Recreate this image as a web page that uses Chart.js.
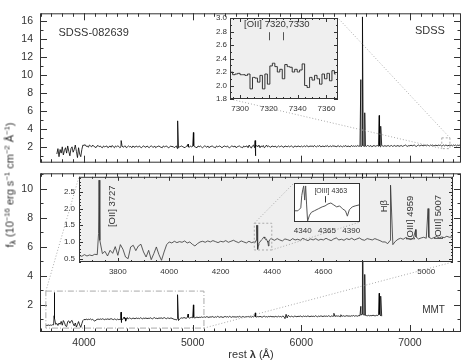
<!DOCTYPE html>
<html>
<head>
<meta charset="utf-8">
<script src="https://cdn.jsdelivr.net/npm/chart.js@4.4.1/dist/chart.umd.min.js"></script>
<style>
  body { margin: 0; background: #fff; }
  #wrap { position: relative; width: 468px; height: 360px; overflow: hidden;
          font-family: 'Liberation Sans', Arial, sans-serif; color: #333; }
  canvas { position: absolute; }
  #ylab { position: absolute; left: 10px; top: 185px; white-space: nowrap; font-size: 11px; line-height: 1;
          font-weight: normal; transform: translate(-50%, -50%) rotate(-90deg); }
  #xlab { position: absolute; left: 251px; top: 354px; white-space: nowrap; font-size: 11px; line-height: 1;
          font-weight: normal; transform: translate(-50%, -50%); }
  .lam { font-weight: bold; }
  sup, sub { font-size: 70%; line-height: 0; position: relative; vertical-align: baseline; }
  sup { top: -0.55em; }
  sub { bottom: -0.3em; }
</style>
</head>
<body>
<div id="wrap">
  <canvas id="cTop" width="468" height="176" style="left:0;top:0"></canvas>
  <canvas id="cBot" width="468" height="188" style="left:0;top:160px"></canvas>
  <canvas id="cTopZoom" width="155" height="108" style="left:190px;top:10px"></canvas>
  <canvas id="cBotZoom" width="415" height="110" style="left:45px;top:168px"></canvas>
  <canvas id="cHgZoom" width="90" height="66" style="left:280px;top:175px"></canvas>
  <div id="ylab">f<sub class="lam">λ</sub> (10<sup>−16</sup> erg s<sup>−1</sup> cm<sup>−2</sup> Å<sup>−1</sup>)</div>
  <div id="xlab">rest <span class="lam">λ</span> (Å)</div>
</div>
<script>
// ---- SDSS spectrum (top panel), 10 A grid from 3750 ----
const SDSS_START = 3750, SDSS_STEP = 10;
const sdssFlux = [
  1.2,1.8,0.9,1.7,1.3,2.0,1.1,1.6,1.9,1.3,2.1,1.5,1.0,1.8,2.0,1.4,1.7,2.2,1.5,0.8,1.9,1.2,0.9,1.7,2.2,
  2.15,2.25,2.05,2.10,1.95,2.20,2.10,2.00,2.20,2.05, 2.00,1.90,2.10,2.15,2.00,2.10,1.95,1.90,2.10,2.00,
  2.05,2.10,1.90,2.00,2.10,1.95,2.15,2.00,1.90,2.10, 2.00,2.10,2.05,1.90,2.00,2.10,1.95,2.05,2.10,1.90,
  2.00,2.10,2.00,2.05,1.90,2.10,2.00,1.95,2.10,2.00,
  2.00,2.10,1.95,1.90,2.05,2.10,2.00,1.95,2.10,2.00, 1.90,2.05,2.10,2.00,1.95,2.10,1.90,2.00,2.05,2.10,
  2.00,1.95,1.90,2.10,2.00,2.05,2.10,1.95,1.90,2.00, 2.10,2.00,2.05,1.90,2.00,2.10,1.80,1.90,2.00,2.05,
  2.10,2.00,1.95,1.90,2.05,2.10,2.00,1.95,2.10,2.00,
  2.05,2.10,2.00,1.95,1.90,2.10,2.00,2.10,2.00,1.90, 2.00,2.10,2.05,1.95,2.10,1.90,2.00,2.05,2.10,2.00,
  1.95,1.90,2.10,2.00,2.05,2.10,2.00,1.90,2.00,2.10, 2.05,2.00,2.10,1.95,1.90,2.00,2.10,2.05,2.00,2.10,
  1.90,2.00,2.05,2.10,2.00,1.95,1.90,2.10,2.00,2.05,
  2.10,1.90,2.20,2.00,1.85,2.10,2.20,1.90,2.00,2.15, 2.00,2.20,1.90,2.10,2.00,2.15,1.90,2.00,2.20,2.00,
  2.10,2.00,1.95,2.10,2.05,2.00,2.10,1.95,2.00,2.10, 2.00,2.05,2.10,2.00,1.95,2.10,2.05,2.00,2.10,2.00,
  2.05,2.10,2.00,1.95,2.10,2.05,2.00,2.10,2.05,2.00,
  2.10,2.00,2.05,2.10,2.00,2.15,2.05,2.00,2.10,2.05, 2.10,2.00,2.15,2.05,2.00,2.10,2.05,2.15,2.00,2.05,
  2.10,2.00,2.10,2.05,2.15,2.00,2.05,2.10,2.00,2.15, 2.05,2.10,2.00,2.05,2.15,2.00,2.10,2.05,2.00,2.10,
  2.05,2.15,2.00,2.10,2.05,2.00,2.15,2.05,2.10,2.05,
  2.10,2.05,2.15,2.05,2.10,2.00,2.15,2.10,2.05,2.10, 2.05,2.15,2.10,2.05,2.15,2.00,2.10,2.15,2.05,2.10,
  2.15,2.05,2.10,2.00,2.15,2.10,2.05,2.15,2.05,2.10, 2.15,2.05,2.10,2.15,2.05,2.10,2.15,2.05,2.10,2.15,
  2.05,2.10,2.15,2.05,2.10,2.15,2.20,2.10,2.05,2.15,
  2.10,2.20,2.10,2.15,2.20,2.10,2.05,2.15,2.20,2.10, 2.15,2.20,2.10,2.15,2.20,2.10,2.20,2.15,2.10,2.20,
  2.15,2.20,2.10,2.15,2.20,2.10,2.20,2.15,2.20,2.10, 2.15,2.20,2.10,2.20,2.15,2.10,2.20,2.15,2.20,2.10,
  2.20,2.15,2.20,2.10,2.20,2.15,2.20,2.20
];
// emission lines / sky residual in the SDSS spectrum
const sdssLineWl   = [4342, 4862, 4959, 5007, 5575, 5579, 6548, 6563, 6584, 6717, 6731];
const sdssLineFlux = [2.7,  4.9,  2.3,  3.6,  2.7,  1.0,  9.5,  16.5, 5.8,  5.5,  4.3];

// SDSS zoom around [OII] 7320,7330 (one value per pixel)
const ZOOM_START = 7293.1, ZOOM_STEP = 1.724;
const sdssZoomFlux = [2.20,2.16,2.17,2.18,2.16,2.16,2.15,2.17,1.95,2.12,2.11,2.05,2.15,1.95,2.17,2.02,
  2.29,2.33,2.28,2.20,2.24,2.10,2.31,2.28,2.27,2.20,2.24,2.20,2.23,2.32,2.00,1.97,2.12,2.08,2.15,2.10,
  2.02,2.17,2.10,2.18,2.07,2.22,2.17];

// ---- MMT spectrum (bottom panel), 10 A grid from 3650; null where the fine Hgamma points take over ----
const MMT_START = 3650, MMT_STEP = 10;
const mmtFlux = [
  0.60,0.57,0.62,0.58,0.61,0.59,0.63,0.62,
  1.05,0.65,0.72,0.58,0.75,0.66,0.86,0.60,0.92,0.78,0.55,0.50,0.85,0.90,0.74,0.88,0.93,0.70,0.55,0.75,
  0.47,0.65,0.85,0.62,0.45,0.70,0.92,
  1.00,0.97,1.02,0.98,1.01,0.99,1.03,0.97,1.00,0.93, 0.88,0.95,1.00,1.02,0.99,1.03,1.00,1.04,1.01,0.98,
  1.02,1.00,1.04,0.99,1.02,1.05,1.01,0.98,1.03,1.00, 0.97,1.02,0.98,1.00,
  null,null,null,null,null,null,
  1.08,1.05,1.10,1.06,1.03,1.09,1.07,1.04,1.10,1.06, 1.08,1.05,1.11,1.07,1.04,1.09,1.06,1.10,1.05,1.08,
  1.06,1.11,1.07,1.04,1.09,1.12,1.06,1.08,1.05,1.10, 1.07,1.11,1.06,1.09,1.12,1.07,1.05,1.10,1.08,1.06,
  1.10,1.07,1.04,1.00,1.00,0.95,1.05,0.92,1.02,1.08, 1.11,1.08,1.13,1.10,1.07,1.12,1.15,1.09,1.12,1.14,
  1.11,1.14,1.10,1.13,1.16,1.12,1.15,1.13,1.17,1.14, 1.15,
  1.17,1.14,1.19,1.16,1.13,1.18,1.15,1.20,1.16,1.14, 1.18,1.15,1.21,1.17,1.14,1.19,1.16,1.13,1.18,1.20,
  1.16,1.19,1.15,1.21,1.17,1.14,1.20,1.16,1.18,1.15, 1.19,1.16,1.21,1.17,1.15,1.20,1.18,1.14,1.19,1.17,
  1.21,1.16,1.19,1.15,1.20,1.17,1.22,1.18,1.16,1.20, 1.17,1.21,1.18,1.15,1.20,1.22,1.17,1.19,1.16,1.21,
  1.18,1.22,1.17,1.20,1.16,1.21,1.19,1.17,1.22,1.18, 1.20,1.16,1.23,1.19,1.05,1.35,1.10,1.28,1.21,1.18,
  1.22,1.19,1.17,1.23,1.20,1.18,1.22,1.19,1.24,1.20, 1.18,1.23,1.20,1.22,1.19,1.24,1.21,1.18,1.23,1.20,
  1.22,1.19,1.25,1.21,1.18,1.23,1.20,1.24,1.22,1.19, 1.24,1.21,1.23,1.20,1.25,1.22,1.19,1.24,1.21,1.23,
  1.20,1.25,1.22,1.24,1.21,1.19,1.24,1.22,1.25,1.21, 1.23,1.26,1.22,1.24,1.21,1.25,1.23,1.27,1.22,1.25,
  1.24,1.22,1.27,1.25,1.30,1.35,1.32,1.30,1.28,1.26, 1.25,1.28,1.24,1.27,1.25,1.29,1.26,1.24,1.28,1.26,
  1.30,1.35,1.25,1.22
];
const mmtLineWl   = [3725, 3727, 4861, 4959, 5007, 5577, 6300, 6364, 6548, 6563, 6584, 6717, 6731];
const mmtLineFlux = [1.25, 2.85, 2.7,  1.37, 2.0,  1.45, 1.42, 1.32, 1.9,  12,   4.1,  2.8,  2.6];
// finer sampling around Hgamma / [OIII] 4363
const mmtHgWl   = [4332,4335,4338,4339,4340,4341,4342,4343,4344,4345,4347,4349,4352,4356,4360,4363,4366,
                   4369,4372,4375,4378,4381,4384,4386,4388,4391,4394,4398];
const mmtHgFlux = [0.99,0.99,1.05,1.30,1.42,1.50,1.21,1.50,1.11,0.78,0.90,0.96,0.99,1.03,1.07,1.09,1.13,
                   1.15,1.11,1.07,1.09,1.03,0.99,0.88,1.01,1.07,1.09,1.11];

// ---- ticks ----
const mainXTicks = [4000, 5000, 6000, 7000];
const topYTicks = [2, 4, 6, 8, 10, 12, 14, 16];
const botYTicks = [2, 4, 6, 8, 10];
const topZoomXTicks = [7300, 7320, 7340, 7360];
const topZoomYTicks = [1.8, 2.0, 2.2, 2.4, 2.6, 2.8, 3.0];
const botZoomXTicks = [3800, 4000, 4200, 4400, 4600, 4800, 5000];
const botZoomXLabels = [3800, 4000, 4200, 4400, 4600, 5000];
const botZoomYTicks = [0.5, 1.0, 1.5, 2.0, 2.5];
const hgXTicks = [4340, 4365, 4390];

const FONT = "'Liberation Sans', Arial, sans-serif";
const TEXT = '#333';
Chart.defaults.font.family = FONT;
Chart.defaults.color = TEXT;

function mergeSpec(start, step, flux, extraWl, extraFlux) {
  const pts = [];
  flux.forEach((f, i) => { if (f !== null) pts.push({ x: start + i * step, y: f }); });
  extraWl.forEach((w, i) => pts.push({ x: w, y: extraFlux[i] }));
  return pts.sort((p, q) => p.x - q.x);
}

function steps(min, max, step) {
  const out = [];
  for (let k = Math.ceil(min / step - 1e-9); k * step <= max + 1e-9; k++) out.push(+(k * step).toFixed(4));
  return out;
}

function linScale(min, max, ticksArr, o) {
  return {
    type: 'linear', min, max, display: o.display !== false,
    afterBuildTicks: s => { s.ticks = ticksArr.map(v => ({ value: v })); },
    afterFit: s => { if (o.size != null) { if (s.isHorizontal()) s.height = o.size; else s.width = o.size; } },
    grid: { display: false, drawTicks: false },
    border: { display: false },
    ticks: { padding: o.pad || 4, font: { size: o.font || 10 }, color: TEXT, maxRotation: 0, autoSkip: false,
             callback: o.fmt || (v => v) }
  };
}

// frame with inward ticks on all four sides (IDL style)
const frame = {
  id: 'frame',
  beforeDraw(chart, args, o) {
    if (!o.bg) return;
    const a = chart.chartArea, c = chart.ctx;
    c.save(); c.fillStyle = o.bg; c.fillRect(a.left, a.top, a.width, a.height); c.restore();
  },
  afterDatasetsDraw(chart, args, o) {
    const a = chart.chartArea, c = chart.ctx, { x, y } = chart.scales;
    c.save();
    c.strokeStyle = o.color || '#333';
    c.lineWidth = 1;
    c.strokeRect(a.left + 0.5, a.top + 0.5, a.width - 1, a.height - 1);
    c.beginPath();
    const xt = (vals, len) => vals.forEach(v => {
      if (v < x.min || v > x.max) return;
      const p = Math.round(x.getPixelForValue(v)) + 0.5;
      c.moveTo(p, a.bottom); c.lineTo(p, a.bottom - len);
      c.moveTo(p, a.top); c.lineTo(p, a.top + len);
    });
    const yt = (vals, len) => vals.forEach(v => {
      if (v < y.min || v > y.max) return;
      const p = Math.round(y.getPixelForValue(v)) + 0.5;
      c.moveTo(a.left, p); c.lineTo(a.left + len, p);
      c.moveTo(a.right, p); c.lineTo(a.right - len, p);
    });
    if (o.xMajor) xt(o.xMajor, o.majorLen);
    if (o.xMinorStep) xt(steps(x.min, x.max, o.xMinorStep), o.minorLen);
    if (o.yMajor) yt(o.yMajor, o.majorLen);
    if (o.yMinorStep) yt(steps(y.min, y.max, o.yMinorStep), o.minorLen);
    c.stroke();
    c.restore();
  }
};

function offsetOf(a, b) {
  return { dx: a.canvas.offsetLeft - b.canvas.offsetLeft, dy: a.canvas.offsetTop - b.canvas.offsetTop };
}

function vText(c, s, px, py) {
  c.save(); c.translate(px, py); c.rotate(-Math.PI / 2);
  c.textAlign = 'center'; c.textBaseline = 'middle'; c.fillText(s, 0, 0);
  c.restore();
}

function baseOptions(padding, scales, frameOpts) {
  return {
    responsive: false, animation: false, events: [], devicePixelRatio: 1,
    layout: { padding },
    plugins: { legend: { display: false }, tooltip: { enabled: false }, frame: frameOpts },
    scales
  };
}

function specSet(data, color, width, stepped) {
  return { data, borderColor: color, borderWidth: width, pointRadius: 0, tension: 0, fill: false,
           stepped: stepped || false };
}

const charts = {};
const sdssPts = mergeSpec(SDSS_START, SDSS_STEP, sdssFlux, sdssLineWl, sdssLineFlux);
const sdssZoomPts = sdssZoomFlux.map((f, i) => ({ x: ZOOM_START + ZOOM_STEP * (i + 0.5), y: f }));
const mmtPts = mergeSpec(MMT_START, MMT_STEP, mmtFlux, mmtLineWl.concat(mmtHgWl), mmtLineFlux.concat(mmtHgFlux));

// ---------- small Hgamma inset ----------
charts.hg = new Chart(document.getElementById('cHgZoom'), {
  type: 'line',
  data: { datasets: [specSet(mmtPts, '#555', 1)] },
  options: baseOptions({ top: 8, right: 10, bottom: 0, left: 14 }, {
    x: linScale(4331, 4399, hgXTicks, { size: 19, pad: 4, font: 8 }),
    y: linScale(0.76, 1.56, [], { display: false })
  }, { bg: '#ffffff', color: '#333' }),
  plugins: [frame, {
    id: 'hgText',
    afterDraw(chart) {
      const c = chart.ctx, { x, y } = chart.scales;
      c.save();
      c.fillStyle = TEXT; c.font = '7px ' + FONT; c.textAlign = 'left'; c.textBaseline = 'middle';
      c.fillText('[OIII] 4363', x.getPixelForValue(4352), y.getPixelForValue(1.39));
      c.strokeStyle = '#333'; c.lineWidth = 1; c.beginPath();
      const p = Math.round(x.getPixelForValue(4363)) + 0.5;
      c.moveTo(p, y.getPixelForValue(1.29)); c.lineTo(p, y.getPixelForValue(1.16)); c.stroke();
      c.restore();
    }
  }]
});

// ---------- MMT blue zoom inset ----------
charts.botZoom = new Chart(document.getElementById('cBotZoom'), {
  type: 'line',
  data: { datasets: [specSet(mmtPts, '#333', 0.8)] },
  options: baseOptions({ top: 8, right: 7, bottom: 0, left: 0 }, {
    x: linScale(3649, 5104, botZoomXLabels, { size: 16, pad: 5, font: 8 }),
    y: linScale(0.4, 2.95, botZoomYTicks, { size: 34, pad: 4, font: 8, fmt: v => v.toFixed(1) })
  }, { bg: '#efefef', color: '#333', xMajor: botZoomXTicks, xMinorStep: 50, yMajor: botZoomYTicks,
       yMinorStep: 0.1, majorLen: 4, minorLen: 2 }),
  plugins: [frame, {
    id: 'botZoomText',
    afterDraw(chart) {
      const c = chart.ctx, { x, y } = chart.scales;
      c.save();
      c.fillStyle = TEXT; c.font = '9.5px ' + FONT;
      vText(c, '[OII] 3727', x.getPixelForValue(3777), y.getPixelForValue(2.07));
      vText(c, 'Hβ', x.getPixelForValue(4836), y.getPixelForValue(2.07));
      vText(c, '[OIII] 4959', x.getPixelForValue(4937), y.getPixelForValue(1.72));
      vText(c, '[OIII] 5007', x.getPixelForValue(5046), y.getPixelForValue(1.74));
      // region shown in the small Hgamma inset
      const h = charts.hg, hx = h.scales.x, hy = h.scales.y;
      const x1 = x.getPixelForValue(hx.min), x2 = x.getPixelForValue(hx.max);
      const y1 = y.getPixelForValue(hy.max), y2 = y.getPixelForValue(hy.min);
      c.strokeStyle = '#aaa'; c.lineWidth = 1; c.setLineDash([2, 2]);
      c.strokeRect(x1, y1, x2 - x1, y2 - y1);
      const { dx, dy } = offsetOf(h, chart), ha = h.chartArea;
      c.setLineDash([1, 2]); c.beginPath();
      c.moveTo(x1, y1); c.lineTo(ha.left + dx, ha.top + dy);
      c.moveTo(x2, y2); c.lineTo(ha.right + dx, ha.bottom + dy);
      c.stroke();
      c.restore();
    }
  }]
});

// ---------- SDSS [OII] 7320,7330 inset ----------
charts.topZoom = new Chart(document.getElementById('cTopZoom'), {
  type: 'line',
  data: { datasets: [specSet(sdssZoomPts, '#333', 1, 'middle')] },
  options: baseOptions({ top: 8, right: 7, bottom: 0, left: 0 }, {
    x: linScale(7293, 7368, topZoomXTicks, { size: 19, pad: 5, font: 8 }),
    y: linScale(1.8, 3.0, topZoomYTicks, { size: 40, pad: 3, font: 8, fmt: v => v.toFixed(1) })
  }, { bg: '#efefef', color: '#333', xMajor: topZoomXTicks, xMinorStep: 5, yMajor: topZoomYTicks,
       yMinorStep: 0.1, majorLen: 4, minorLen: 2 }),
  plugins: [frame, {
    id: 'topZoomText',
    afterDraw(chart) {
      const c = chart.ctx, { x, y } = chart.scales;
      c.save();
      c.fillStyle = TEXT; c.font = '9.5px ' + FONT; c.textAlign = 'center'; c.textBaseline = 'middle';
      c.fillText('[OII] 7320,7330', x.getPixelForValue(7325.5), y.getPixelForValue(2.90));
      c.strokeStyle = '#555'; c.lineWidth = 1; c.beginPath();
      [7320, 7330].forEach(w => {
        const p = Math.round(x.getPixelForValue(w)) + 0.5;
        c.moveTo(p, y.getPixelForValue(2.79)); c.lineTo(p, y.getPixelForValue(2.67));
      });
      c.stroke();
      c.restore();
    }
  }]
});

// ---------- top panel: SDSS ----------
charts.top = new Chart(document.getElementById('cTop'), {
  type: 'line',
  data: { datasets: [specSet(sdssPts, '#000', 0.8)] },
  options: baseOptions({ top: 3, right: 7, bottom: 8, left: 0 }, {
    x: linScale(3595, 7470, mainXTicks, { display: false }),
    y: linScale(0.23, 16.9, topYTicks, { size: 40, pad: 7, font: 10.5 })
  }, { color: '#333', xMajor: mainXTicks, xMinorStep: 100, yMajor: topYTicks, yMinorStep: 1,
       majorLen: 7, minorLen: 3.5 }),
  plugins: [frame, {
    id: 'topText',
    afterDraw(chart) {
      const c = chart.ctx, { x, y } = chart.scales;
      c.save();
      c.fillStyle = TEXT; c.font = '11px ' + FONT; c.textBaseline = 'middle';
      c.textAlign = 'left'; c.fillText('SDSS-082639', x.getPixelForValue(3765), y.getPixelForValue(14.7));
      c.textAlign = 'right'; c.fillText('SDSS', x.getPixelForValue(7322), y.getPixelForValue(14.9));
      const z = charts.topZoom, zx = z.scales.x, zy = z.scales.y;
      const x1 = x.getPixelForValue(zx.min), x2 = x.getPixelForValue(zx.max);
      const y1 = y.getPixelForValue(zy.max), y2 = y.getPixelForValue(zy.min);
      c.strokeStyle = '#aaa'; c.lineWidth = 1; c.setLineDash([2, 2]);
      c.strokeRect(x1, y1, x2 - x1, y2 - y1);
      const { dx, dy } = offsetOf(z, chart), za = z.chartArea;
      c.setLineDash([1, 2]); c.beginPath();
      c.moveTo(x2, y1); c.lineTo(za.right + dx, za.top + dy);
      c.moveTo(x1, y2); c.lineTo(za.left + dx, za.bottom + dy);
      c.stroke();
      c.restore();
    }
  }]
});

// ---------- bottom panel: MMT ----------
charts.bot = new Chart(document.getElementById('cBot'), {
  type: 'line',
  data: { datasets: [specSet(mmtPts, '#000', 0.8)] },
  options: baseOptions({ top: 8, right: 7, bottom: 0, left: 0 }, {
    x: linScale(3595, 7470, mainXTicks, { size: 16, pad: 5, font: 10.5 }),
    y: linScale(0.13, 11.07, botYTicks, { size: 40, pad: 7, font: 10.5 })
  }, { color: '#333', xMajor: mainXTicks, xMinorStep: 100, yMajor: botYTicks, yMinorStep: 1,
       majorLen: 7, minorLen: 3.5 }),
  plugins: [frame, {
    id: 'botText',
    afterDraw(chart) {
      const c = chart.ctx, { x, y } = chart.scales;
      c.save();
      c.fillStyle = TEXT; c.font = '10px ' + FONT; c.textBaseline = 'middle'; c.textAlign = 'right';
      c.fillText('MMT', x.getPixelForValue(7322), y.getPixelForValue(1.6));
      const z = charts.botZoom, zx = z.scales.x, zy = z.scales.y;
      const x1 = x.getPixelForValue(zx.min), x2 = x.getPixelForValue(zx.max);
      const y1 = y.getPixelForValue(zy.max), y2 = y.getPixelForValue(zy.min);
      c.strokeStyle = '#aaa'; c.lineWidth = 1; c.setLineDash([6, 2, 1, 2]);
      c.strokeRect(x1, y1, x2 - x1, y2 - y1);
      const { dx, dy } = offsetOf(z, chart), za = z.chartArea;
      c.setLineDash([1, 2]); c.beginPath();
      c.moveTo(x1, y1); c.lineTo(za.left + dx, za.top + dy);
      c.moveTo(x2, y2); c.lineTo(za.right + dx, za.bottom + dy);
      c.stroke();
      c.restore();
    }
  }]
});
</script>
</body>
</html>
